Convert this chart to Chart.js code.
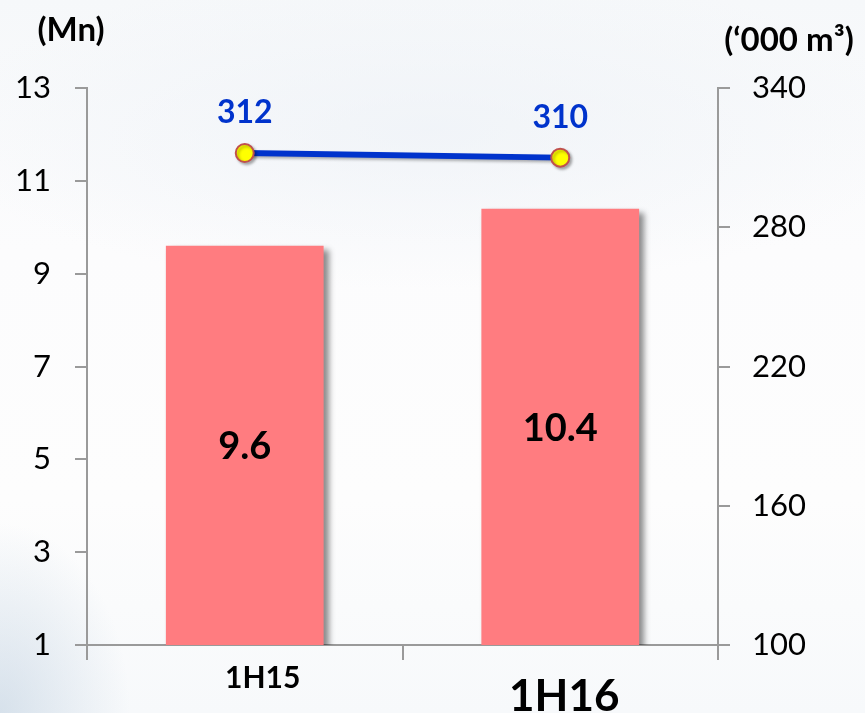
<!DOCTYPE html>
<html>
<head>
<meta charset="utf-8">
<script src="https://cdn.jsdelivr.net/npm/chart.js@4.4.0/dist/chart.umd.min.js"></script>
<style>
  html, body {
    margin: 0;
    padding: 0;
  }
  body {
    width: 865px;
    height: 713px;
    overflow: hidden;
    background:
      radial-gradient(ellipse 130px 190px at 0px 713px, rgba(175,196,216,0.45), rgba(175,196,216,0) 100%),
      radial-gradient(ellipse 500px 160px at 430px 130px, rgba(235,240,246,0.6), rgba(235,240,246,0) 100%),
      linear-gradient(180deg, #f6f8fa 0%, #fcfcfd 35%, #fdfdfd 70%, #f7f9fb 100%);
  }
  canvas {
    display: block;
  }
</style>
</head>
<body>
<canvas id="chart" width="865" height="713"></canvas>
<script>
const categories = ["1H15", "1H16"];
const revenue = [9.6, 10.4];          // Mn, left axis
const volume = [312, 310];            // '000 m3, right axis
const leftTicks = [1, 13, 2];         // min, max, step
const rightTicks = [100, 340, 60];

const FONT = "Lato, 'Open Sans', sans-serif";
const AXIS_GREY = "#9a9a9a";

const shadowPlugin = {
  id: "shadows",
  beforeDatasetDraw(chart, args) {
    const ctx = chart.ctx;
    ctx.save();
    if (args.meta.type === "bar") {
      ctx.shadowColor = "rgba(0,0,0,0.45)";
      ctx.shadowBlur = 6;
      ctx.shadowOffsetX = 5;
      ctx.shadowOffsetY = 4;
    } else {
      ctx.shadowColor = "rgba(0,0,0,0.3)";
      ctx.shadowBlur = 3;
      ctx.shadowOffsetX = 2;
      ctx.shadowOffsetY = 2;
    }
  },
  afterDatasetDraw(chart) {
    chart.ctx.restore();
  }
};

const labelPlugin = {
  id: "labels",
  afterDatasetsDraw(chart) {
    const ctx = chart.ctx;
    ctx.save();
    ctx.textAlign = "center";
    ctx.textBaseline = "alphabetic";

    // values inside the bars (bars are clipped at the axis bottom)
    const barMeta = chart.getDatasetMeta(1);
    const bottom = chart.scales.y.bottom;
    ctx.fillStyle = "#000";
    ctx.font = "bold 38px " + FONT;
    barMeta.data.forEach((el, i) => {
      const mid = (el.y + Math.min(el.base, bottom)) / 2;
      ctx.fillText(revenue[i].toFixed(1), el.x, mid + 14);
    });

    // values above the line points
    const lineMeta = chart.getDatasetMeta(0);
    ctx.fillStyle = "#0033cc";
    ctx.font = "bold 32px " + FONT;
    lineMeta.data.forEach((el, i) => {
      ctx.fillText(String(volume[i]), el.x, el.y - 30);
    });

    // category labels
    const x = chart.scales.x;
    ctx.fillStyle = "#000";
    categories.forEach((c, i) => {
      const px = x.getPixelForValue(i);
      if (i === 0) {
        ctx.font = "bold 30px " + FONT;
        ctx.fillText(c, px + 18, x.top + 43);
      } else {
        ctx.font = "bold 44px " + FONT;
        ctx.fillText(c, px + 4, x.top + 66);
      }
    });

    // axis titles
    ctx.font = "bold 33px " + FONT;
    ctx.fillText("(Mn)", 71, 41);
    ctx.fillText("(\u2018000 m\u00b3)", 789, 51);
    ctx.restore();
  }
};

new Chart(document.getElementById("chart"), {
  data: {
    labels: categories,
    datasets: [
      {
        type: "line",
        data: volume,
        yAxisID: "y1",
        order: 0,
        borderColor: "#0033cc",
        borderWidth: 6,
        pointRadius: 9,
        pointBackgroundColor: "#ffff00",
        pointBorderColor: "#c0504d",
        pointBorderWidth: 2,
        tension: 0
      },
      {
        type: "bar",
        data: revenue,
        yAxisID: "y",
        order: 1,
        backgroundColor: "#ff7c80",
        borderWidth: 0,
        categoryPercentage: 1,
        barPercentage: 0.5
      }
    ]
  },
  options: {
    responsive: false,
    animation: false,
    layout: { padding: { top: 88, left: 0, right: 0, bottom: 0 } },
    plugins: {
      legend: { display: false },
      tooltip: { enabled: false }
    },
    scales: {
      x: {
        type: "category",
        offset: true,
        grid: {
          offset: true,
          drawOnChartArea: false,
          tickLength: 15,
          color: AXIS_GREY,
          lineWidth: 2
        },
        border: { color: AXIS_GREY, width: 2 },
        ticks: { display: false },
        afterFit(scale) { scale.height = 68; }
      },
      y: {
        position: "left",
        min: leftTicks[0],
        max: leftTicks[1],
        ticks: {
          stepSize: leftTicks[2],
          color: "#000",
          padding: 24,
          font: { family: FONT, size: 31 }
        },
        grid: {
          drawOnChartArea: false,
          tickLength: 12,
          color: AXIS_GREY,
          lineWidth: 2
        },
        border: { color: AXIS_GREY, width: 2 },
        afterFit(scale) { scale.width = 87; }
      },
      y1: {
        position: "right",
        min: rightTicks[0],
        max: rightTicks[1],
        ticks: {
          stepSize: rightTicks[2],
          color: "#000",
          padding: 22,
          font: { family: FONT, size: 31 }
        },
        grid: {
          drawOnChartArea: false,
          tickLength: 12,
          color: AXIS_GREY,
          lineWidth: 2
        },
        border: { color: AXIS_GREY, width: 2 },
        afterFit(scale) { scale.width = 147; }
      }
    }
  },
  plugins: [shadowPlugin, labelPlugin]
});
</script>
</body>
</html>
